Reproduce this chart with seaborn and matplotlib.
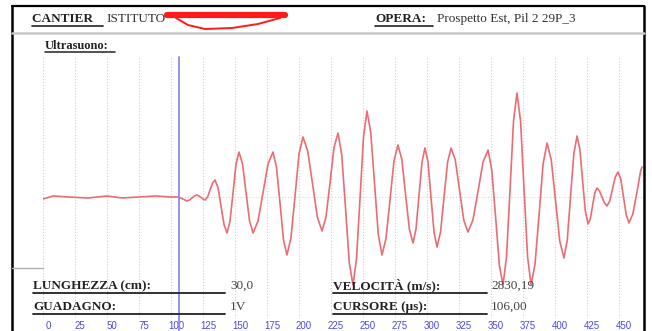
import numpy as np
import pandas as pd
import matplotlib
matplotlib.use('Agg')
import matplotlib.pyplot as plt
import seaborn as sns
from matplotlib.lines import Line2D
from matplotlib.transforms import ScaledTranslation


# Waveform (time in us, amplitude in screen units)
time_us = [0, 8, 20, 35, 50, 62, 75, 88, 100, 106,
           107.6, 109.3, 110.9, 112.5, 114.5, 116.4, 118.3, 120.3,
           121.9, 123.5, 125.0, 126.6, 128.6, 130.5, 132.5, 134.4,
           136.8, 139.1, 141.5, 143.8, 146.1, 148.5, 150.8, 153.1,
           155.9, 158.6, 161.4, 164.1, 168.0, 171.9, 175.8, 179.7,
           182.4, 185.2, 187.9, 190.6, 193.7, 196.9, 200.0, 203.1,
           206.8, 210.6, 214.3, 218.0, 221.1, 224.3, 227.4, 230.5,
           233.4, 236.4, 239.3, 242.2, 244.9, 247.7, 250.4, 253.1,
           256.0, 259.0, 261.9, 264.8, 267.9, 271.1, 274.2, 277.3,
           280.3, 283.2, 286.2, 289.1, 291.4, 293.8, 296.1, 298.4,
           300.8, 303.1, 305.5, 307.8, 310.6, 313.3, 316.1, 318.8,
           322.1, 325.4, 328.7, 332.0, 335.9, 339.9, 343.8, 347.7,
           350.6, 353.6, 356.5, 359.4, 362.1, 364.9, 367.6, 370.3,
           373.1, 375.8, 378.6, 381.3, 384.4, 387.6, 390.7, 393.8,
           397.1, 400.4, 403.7, 407.0, 409.6, 412.1, 414.7, 417.2,
           419.4, 421.5, 423.7, 425.8, 427.6, 429.3, 431.1, 432.8,
           434.8, 436.7, 438.7, 440.6, 442.8, 444.9, 447.1, 449.2,
           451.4, 453.5, 455.7, 457.8, 460.8, 463.9, 466.9, 468]
amplitude = [-2, 1, 0, -1, 1, -1, 0, 1, 0, 0,
             -1, -2, -3, -4, -3, -1, 1, 2,
             1, -0.5, -2, -3, 0, 7, 14, 17,
             9, -9.5, -28, -36, -24, 4.5, 33, 45,
             33, 4.5, -24, -36, -24, 4.5, 33, 45,
             30, -6.5, -43, -58, -41, 1, 43, 60,
             46, 13, -20, -34, -20, 15, 50, 64,
             42, -12, -66, -88, -62, -1, 60, 86,
             65, 14, -37, -58, -42, -3, 36, 52,
             38, 3, -32, -46, -32, 2, 35, 49,
             35, 0, -35, -50, -35, 0, 35, 49,
             37, 7, -23, -35, -23, 6, 35, 47,
             27, -20, -68, -88, -60, 8, 76, 104,
             76, 8, -60, -88, -67, -17, 33, 54,
             37, -4, -44, -61, -43, 0, 43, 61,
             48, 17, -14, -27, -22, -9, 4, 9,
             6, 0, -6, -9, -4, 8, 20, 25,
             18, 0, -18, -26, -17, 4, 26, 30]
tick_values = list(range(0, 451, 25))
cursor_us = 106

# Report fields
header_left = ("CANTIER ", "ISTITUTO")
header_right = ("OPERA:", "Prospetto Est, Pil 2 29P_3")
fields = [("LUNGHEZZA (cm):", "30,0"), ("GUADAGNO:", "1V"),
          ("VELOCITÀ (m/s):", "2830,19"), ("CURSORE (µs):", "106,00")]

df = pd.DataFrame({'t': time_us, 'amp': amplitude})

sns.set_style('white')
plt.rcParams['font.family'] = ['Liberation Serif', 'DejaVu Serif']

W, H = 652, 331
fig = plt.figure(figsize=(W / 100, H / 100), dpi=100)


def fx(x):
    return x / W


def fy(y):
    return 1 - y / H


def hline(x0, x1, y, **kw):
    fig.add_artist(Line2D([fx(x0), fx(x1)], [fy(y), fy(y)], **kw))


def vline(x, y0, y1, **kw):
    fig.add_artist(Line2D([fx(x), fx(x)], [fy(y0), fy(y1)], **kw))


# Plot area
ax = fig.add_axes([fx(43), fy(318), 601.6 / W, (318 - 57) / H])
sns.lineplot(data=df, x='t', y='amp', color='#ea6c74', lw=1.2, ax=ax)
ax.set_xlim(0, 470)
ax.set_ylim(-121, 140)
ax.set_xticks(tick_values)
ax.set_yticks([])
ax.grid(axis='x', ls=':', color='#cfcfcf', lw=0.8)
ax.axhline(0, ls=':', color='#d5d5d5', lw=0.8, zorder=0)
ax.axvline(cursor_us, ymin=-0.06, ymax=1, color='#8c8ce8', lw=1.3,
           clip_on=False)
ax.set_xlabel('')
ax.set_ylabel('')
for s in ax.spines.values():
    s.set_visible(False)
ax.tick_params(axis='x', length=0, pad=2.5, labelsize=7, labelcolor='#4a4ae8')
for lab in ax.get_xticklabels():
    lab.set_fontfamily('Liberation Sans')
    lab.set_transform(lab.get_transform() + ScaledTranslation(0.05, 0, fig.dpi_scale_trans))

# Frame and separators
hline(12, 644, 6, color='black', lw=1.6)
vline(12, 6, 331, color='black', lw=1.8)
vline(644, 6, 331, color='black', lw=1.8)
hline(12, 644, 33, color='#c8c8c8', lw=1.8)
hline(12, 43, 268, color='#b0b0b0', lw=1)

# Header
fig.text(fx(32), fy(22), header_left[0], fontsize=9.5, fontweight='bold', color='#222222')
hline(32, 103, 25.5, color='#222222', lw=1.2)
fig.text(fx(106), fy(22), header_left[1], fontsize=9.5, color='#333333')
hline(167, 285, 15, color='#ff1a1a', lw=4.5, solid_capstyle='round')
fig.add_artist(Line2D([fx(x) for x in (176, 188, 205, 232, 258, 280)],
                      [fy(y) for y in (18, 25, 29, 28, 24, 18)],
                      color='#ff1a1a', lw=1.4))
fig.text(fx(375), fy(22), header_right[0], fontsize=9.5, fontweight='bold', color='#222222')
hline(375, 433, 25.5, color='#222222', lw=1.2)
fig.text(fx(437), fy(22), header_right[1], fontsize=9.5, color='#333333')

fig.text(fx(45), fy(49), "Ultrasuono:", fontsize=9, fontweight='bold', color='#222222')
hline(45, 115, 52, color='#222222', lw=1.1)

# Bottom fields
pos = [(33, 289, 225, 230), (33, 310, 225, 230),
       (333, 289, 487, 491), (333, 310, 487, 491)]
for (label, value), (x0, yb, x1, xv) in zip(fields, pos):
    fig.text(fx(x0), fy(yb), label, fontsize=9.5, fontweight='bold', color='#222222')
    hline(x0, x1, yb + 4, color='#222222', lw=1.3)
    fig.text(fx(xv), fy(yb), value, fontsize=9.5, color='#444444')

fig.savefig('out.png', dpi=100)
